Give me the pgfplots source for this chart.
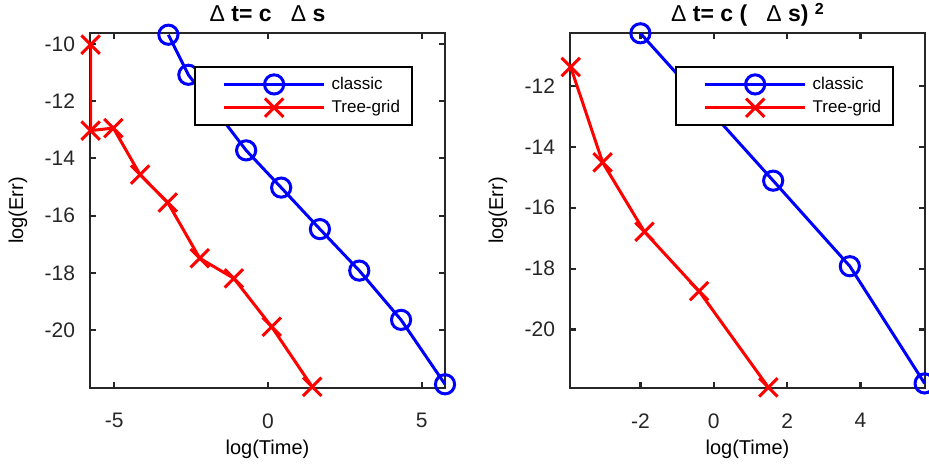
\documentclass[border=0pt]{standalone}
\usepackage{pgfplots}
\pgfplotsset{compat=1.18}
\usepackage{fontspec}
\setmainfont{Liberation Sans}
\definecolor{axgray}{HTML}{262626}

\pgfplotsset{
  mstyle/.style={
    width=177.5pt, height=177.5pt, scale only axis,
    axis line style={axgray, line width=1.1pt},
    every tick/.style={axgray, line width=1.1pt},
    major tick length=3pt,
    tick align=inside,
    ticklabel style={font=\fontsize{10.5}{12}\selectfont, text=axgray},
    xticklabel style={yshift=-9.2pt},
    yticklabel style={xshift=-4pt},
    label style={font=\fontsize{10.5}{12}\selectfont, text=axgray},
    every axis x label/.style={at={(axis description cs:0.5,-0.172)}, anchor=center},
    every axis y label/.style={at={(axis description cs:-0.203,0.5)}, rotate=90, anchor=center},
    /pgf/number format/assume math mode=true,
    every axis title shift=0pt,
    every axis title/.style={font=\fontsize{11.5}{13}\selectfont\bfseries,
      at={(axis description cs:0.5,1)}, anchor=base, yshift=5.7pt},
    xlabel={log(Time)}, ylabel={log(Err)},
    legend cell align=left,
    legend image code/.code={
      \path (-10pt,0pt) (51pt,0pt);
      \draw[mark repeat=2,mark phase=2,##1] plot coordinates {(0pt,0pt)(25pt,0pt)(50pt,0pt)};
    },
    legend style={anchor=north east, draw=black, line width=1.1pt, fill=white,
      font=\fontsize{8.5}{10}\selectfont, inner xsep=4pt, inner ysep=3pt},
  },
  classic/.style={blue, line width=1.5pt, mark=o, mark size=4.8pt, mark options={solid}},
  tree/.style={red, line width=1.5pt, mark=x, mark size=6.5pt, mark options={solid}},
}

\begin{document}
\begin{tikzpicture}
\begin{axis}[mstyle,
  title={{\mdseries Δ} t= c \ \ {\mdseries Δ} s},
  xmin=-5.79, xmax=5.76, ymin=-22.02, ymax=-9.62,
  xtick={-5,0,5}, ytick={-20,-18,-16,-14,-12,-10},
  legend style={at={(0.91,0.908)}},
]
\addplot[classic] coordinates {
  (-3.24,-9.68) (-2.59,-11.08) (-0.71,-13.72) (0.43,-15.02)
  (1.69,-16.47) (2.97,-17.92) (4.33,-19.64) (5.76,-21.89)
};
\addplot[tree] coordinates {
  (-5.77,-10.03) (-5.77,-13.03) (-5.03,-12.94) (-4.16,-14.57) (-3.26,-15.54)
  (-2.22,-17.49) (-1.11,-18.19) (0.12,-19.88) (1.44,-21.98)
};
\legend{classic,Tree-grid\hspace{6pt}}
\end{axis}

\begin{axis}[mstyle, at={(240pt,0pt)},
  title={{\mdseries Δ} t= c ( \ \ {\mdseries Δ} s) \raisebox{0.6ex}{\fontsize{8}{9}\selectfont 2}},
  xmin=-3.92, xmax=5.76, ymin=-21.92, ymax=-10.26,
  xtick={-2,0,2,4}, ytick={-20,-18,-16,-14,-12},
  legend style={at={(0.913,0.908)}},
]
\addplot[classic] coordinates {
  (-2.0,-10.27) (1.62,-15.11) (3.71,-17.92) (5.75,-21.77)
};
\addplot[tree] coordinates {
  (-3.90,-11.38) (-3.03,-14.51) (-1.89,-16.79) (-0.40,-18.74) (1.49,-21.90)
};
\legend{classic,Tree-grid\hspace{6pt}}
\end{axis}
\pgfresetboundingbox
\path[use as bounding box] (-45pt,-38.5pt) rectangle (419.5pt,194pt);
\end{tikzpicture}
\end{document}
